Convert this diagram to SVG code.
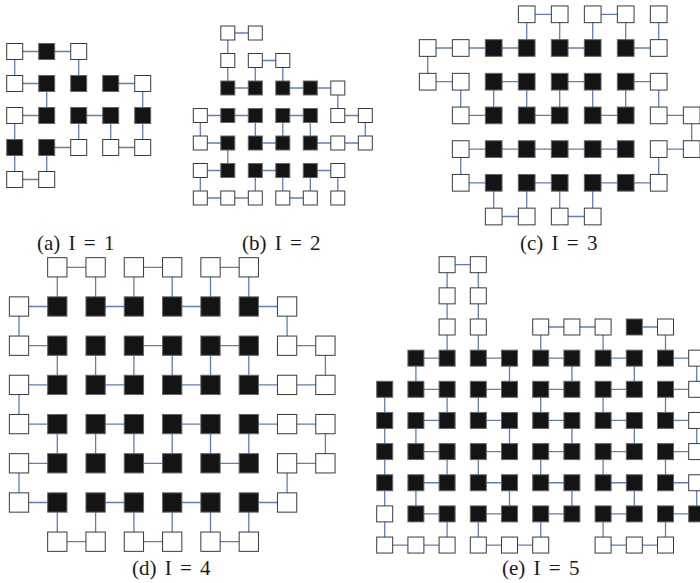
<svg xmlns="http://www.w3.org/2000/svg" width="700" height="583" viewBox="0 0 700 583">
<style>
.w{fill:#fff;stroke:#3a3a3a;stroke-width:1}
.b{fill:#141414;stroke:#666;stroke-width:1}
.e{fill:none;stroke:#5b7fc0;stroke-width:1.3}
.lbl{font-family:"Liberation Serif","Times New Roman",serif;font-size:21px;word-spacing:3px;fill:#1a1a1a}
</style>
<defs>
<rect id="aw" class="w" x="-8" y="-8" width="16" height="16"/>
<rect id="ab" class="b" x="-8" y="-8" width="16" height="16"/>
<rect id="bw" class="w" x="-7" y="-7" width="14" height="14"/>
<rect id="bb" class="b" x="-7" y="-7" width="14" height="14"/>
<rect id="cw" class="w" x="-8.35" y="-8.35" width="16.7" height="16.7"/>
<rect id="cb" class="b" x="-8.35" y="-8.35" width="16.7" height="16.7"/>
<rect id="dw" class="w" x="-9.65" y="-9.65" width="19.3" height="19.3"/>
<rect id="db" class="b" x="-9.65" y="-9.65" width="19.3" height="19.3"/>
</defs>
<g id="connectors" class="e">
<path transform="translate(14.7 51.5)" d="M0 0H64 M0 32H32 M96 32H128 M0 64H32 M64 64H96 M32 96H64 M96 96H128 M0 128H32 M0 0V32 M64 0V32 M32 32V64 M128 32V64 M0 64V128 M64 64V96 M96 64V96 M128 64V96 M32 96V128"/>
<path transform="translate(200.3 33)" d="M27.5 0H55 M55 27.5H82.5 M27.5 55H55 M82.5 55H137.5 M0 82.5H55 M82.5 82.5H110 M137.5 82.5H165 M0 110H27.5 M55 110H82.5 M110 110H165 M0 137.5H27.5 M55 137.5H82.5 M110 137.5H137.5 M0 165H55 M82.5 165H110 M27.5 0V55 M55 27.5V55 M82.5 27.5V55 M137.5 55V82.5 M0 82.5V110 M55 82.5V110 M82.5 82.5V110 M110 82.5V110 M165 82.5V110 M27.5 110V137.5 M0 137.5V165 M55 137.5V165 M82.5 137.5V165 M110 137.5V165 M137.5 137.5V165"/>
<path transform="translate(427.7 14.3)" d="M99 0H132 M165 0H198 M0 33.7H99 M132 33.7H165 M198 33.7H231 M0 67.4H33 M66 67.4H99 M132 67.4H165 M198 67.4H231 M33 101.1H66 M99 101.1H132 M165 101.1H198 M231 101.1H264 M33 134.8H198 M231 134.8H264 M33 168.5H66 M99 168.5H132 M165 168.5H231 M66 202.2H99 M132 202.2H165 M99 0V33.7 M132 0V33.7 M165 0V33.7 M198 0V33.7 M231 0V33.7 M0 33.7V67.4 M33 67.4V101.1 M66 67.4V101.1 M99 67.4V101.1 M132 67.4V101.1 M165 67.4V101.1 M198 67.4V101.1 M231 67.4V101.1 M264 101.1V134.8 M33 134.8V168.5 M231 134.8V168.5 M66 168.5V202.2 M99 168.5V202.2 M132 168.5V202.2 M165 168.5V202.2"/>
<path transform="translate(19 267.3)" d="M38.3 0H76.6 M114.9 0H153.2 M191.5 0H229.8 M0 39.2H38.3 M76.6 39.2H114.9 M153.2 39.2H191.5 M229.8 39.2H268.1 M0 78.4H38.3 M114.9 78.4H153.2 M191.5 78.4H229.8 M268.1 78.4H306.4 M0 117.6H38.3 M76.6 117.6H114.9 M153.2 117.6H191.5 M229.8 117.6H306.4 M0 156.8H38.3 M76.6 156.8H114.9 M153.2 156.8H191.5 M229.8 156.8H306.4 M0 196H38.3 M114.9 196H153.2 M191.5 196H229.8 M268.1 196H306.4 M0 235.2H38.3 M76.6 235.2H114.9 M153.2 235.2H191.5 M229.8 235.2H268.1 M38.3 274.4H76.6 M114.9 274.4H153.2 M191.5 274.4H229.8 M38.3 0V39.2 M76.6 0V39.2 M114.9 0V39.2 M153.2 0V39.2 M191.5 0V39.2 M229.8 0V39.2 M0 39.2V78.4 M268.1 39.2V78.4 M38.3 78.4V117.6 M76.6 78.4V117.6 M114.9 78.4V117.6 M153.2 78.4V117.6 M191.5 78.4V117.6 M229.8 78.4V117.6 M306.4 78.4V117.6 M0 117.6V156.8 M38.3 156.8V196 M76.6 156.8V196 M114.9 156.8V196 M153.2 156.8V196 M191.5 156.8V196 M229.8 156.8V196 M306.4 156.8V196 M0 196V235.2 M268.1 196V235.2 M38.3 235.2V274.4 M76.6 235.2V274.4 M114.9 235.2V274.4 M153.2 235.2V274.4 M191.5 235.2V274.4 M229.8 235.2V274.4"/>
<path transform="translate(384.7 264.7)" d="M62.4 0H93.6 M156 62.3H218.4 M249.6 62.3H280.8 M31.2 93.45H62.4 M93.6 93.45H124.8 M156 93.45H187.2 M218.4 93.45H249.6 M280.8 93.45H312 M31.2 124.6H62.4 M93.6 124.6H124.8 M156 124.6H187.2 M218.4 124.6H249.6 M280.8 124.6H312 M31.2 155.75H62.4 M93.6 155.75H124.8 M156 155.75H187.2 M218.4 155.75H249.6 M280.8 155.75H312 M31.2 186.9H62.4 M93.6 186.9H124.8 M156 186.9H187.2 M218.4 186.9H249.6 M280.8 186.9H312 M31.2 218.05H62.4 M93.6 218.05H124.8 M156 218.05H187.2 M218.4 218.05H249.6 M280.8 218.05H312 M31.2 249.2H62.4 M93.6 249.2H124.8 M156 249.2H187.2 M218.4 249.2H249.6 M280.8 249.2H312 M0 280.35H62.4 M93.6 280.35H156 M218.4 280.35H280.8 M62.4 0V93.45 M93.6 0V93.45 M156 62.3V93.45 M218.4 62.3V93.45 M280.8 62.3V93.45 M0 124.6V280.35 M31.2 93.45V124.6 M124.8 93.45V124.6 M187.2 93.45V124.6 M249.6 93.45V124.6 M312 93.45V124.6 M31.2 155.75V186.9 M124.8 155.75V186.9 M187.2 155.75V186.9 M249.6 155.75V186.9 M312 155.75V186.9 M31.2 218.05V249.2 M124.8 218.05V249.2 M187.2 218.05V249.2 M249.6 218.05V249.2 M312 218.05V249.2 M62.4 124.6V155.75 M93.6 124.6V155.75 M156 124.6V155.75 M218.4 124.6V155.75 M280.8 124.6V155.75 M62.4 186.9V218.05 M93.6 186.9V218.05 M156 186.9V218.05 M218.4 186.9V218.05 M280.8 186.9V218.05 M62.4 249.2V280.35 M93.6 249.2V280.35 M156 249.2V280.35 M218.4 249.2V280.35 M280.8 249.2V280.35"/>
</g>
<g id="panel-a" transform="translate(14.7 51.5)">
<g id="a0-0"><use href="#aw" x="0" y="0"/></g>
<g id="a0-1"><use href="#ab" x="32" y="0"/></g>
<g id="a0-2"><use href="#aw" x="64" y="0"/></g>
<g id="a1-0"><use href="#aw" x="0" y="32"/></g>
<g id="a1-1"><use href="#ab" x="32" y="32"/></g>
<g id="a1-2"><use href="#ab" x="64" y="32"/></g>
<g id="a1-3"><use href="#ab" x="96" y="32"/></g>
<g id="a1-4"><use href="#aw" x="128" y="32"/></g>
<g id="a2-0"><use href="#aw" x="0" y="64"/></g>
<g id="a2-1"><use href="#ab" x="32" y="64"/></g>
<g id="a2-2"><use href="#ab" x="64" y="64"/></g>
<g id="a2-3"><use href="#ab" x="96" y="64"/></g>
<g id="a2-4"><use href="#ab" x="128" y="64"/></g>
<g id="a3-0"><use href="#ab" x="0" y="96"/></g>
<g id="a3-1"><use href="#ab" x="32" y="96"/></g>
<g id="a3-2"><use href="#aw" x="64" y="96"/></g>
<g id="a3-3"><use href="#aw" x="96" y="96"/></g>
<g id="a3-4"><use href="#aw" x="128" y="96"/></g>
<g id="a4-0"><use href="#aw" x="0" y="128"/></g>
<g id="a4-1"><use href="#aw" x="32" y="128"/></g>
</g>
<g id="panel-b" transform="translate(200.3 33)">
<g id="b0-1"><use href="#bw" x="27.5" y="0"/></g>
<g id="b0-2"><use href="#bw" x="55" y="0"/></g>
<g id="b1-1"><use href="#bw" x="27.5" y="27.5"/></g>
<g id="b1-2"><use href="#bw" x="55" y="27.5"/></g>
<g id="b1-3"><use href="#bw" x="82.5" y="27.5"/></g>
<g id="b2-1"><use href="#bb" x="27.5" y="55"/></g>
<g id="b2-2"><use href="#bb" x="55" y="55"/></g>
<g id="b2-3"><use href="#bb" x="82.5" y="55"/></g>
<g id="b2-4"><use href="#bb" x="110" y="55"/></g>
<g id="b2-5"><use href="#bw" x="137.5" y="55"/></g>
<g id="b3-0"><use href="#bw" x="0" y="82.5"/></g>
<g id="b3-1"><use href="#bb" x="27.5" y="82.5"/></g>
<g id="b3-2"><use href="#bb" x="55" y="82.5"/></g>
<g id="b3-3"><use href="#bb" x="82.5" y="82.5"/></g>
<g id="b3-4"><use href="#bb" x="110" y="82.5"/></g>
<g id="b3-5"><use href="#bw" x="137.5" y="82.5"/></g>
<g id="b3-6"><use href="#bw" x="165" y="82.5"/></g>
<g id="b4-0"><use href="#bw" x="0" y="110"/></g>
<g id="b4-1"><use href="#bb" x="27.5" y="110"/></g>
<g id="b4-2"><use href="#bb" x="55" y="110"/></g>
<g id="b4-3"><use href="#bb" x="82.5" y="110"/></g>
<g id="b4-4"><use href="#bb" x="110" y="110"/></g>
<g id="b4-5"><use href="#bw" x="137.5" y="110"/></g>
<g id="b4-6"><use href="#bw" x="165" y="110"/></g>
<g id="b5-0"><use href="#bw" x="0" y="137.5"/></g>
<g id="b5-1"><use href="#bb" x="27.5" y="137.5"/></g>
<g id="b5-2"><use href="#bb" x="55" y="137.5"/></g>
<g id="b5-3"><use href="#bb" x="82.5" y="137.5"/></g>
<g id="b5-4"><use href="#bb" x="110" y="137.5"/></g>
<g id="b5-5"><use href="#bw" x="137.5" y="137.5"/></g>
<g id="b6-0"><use href="#bw" x="0" y="165"/></g>
<g id="b6-1"><use href="#bw" x="27.5" y="165"/></g>
<g id="b6-2"><use href="#bw" x="55" y="165"/></g>
<g id="b6-3"><use href="#bw" x="82.5" y="165"/></g>
<g id="b6-4"><use href="#bw" x="110" y="165"/></g>
<g id="b6-5"><use href="#bw" x="137.5" y="165"/></g>
</g>
<g id="panel-c" transform="translate(427.7 14.3)">
<g id="c0-3"><use href="#cw" x="99" y="0"/></g>
<g id="c0-4"><use href="#cw" x="132" y="0"/></g>
<g id="c0-5"><use href="#cw" x="165" y="0"/></g>
<g id="c0-6"><use href="#cw" x="198" y="0"/></g>
<g id="c0-7"><use href="#cw" x="231" y="0"/></g>
<g id="c1-0"><use href="#cw" x="0" y="33.7"/></g>
<g id="c1-1"><use href="#cw" x="33" y="33.7"/></g>
<g id="c1-2"><use href="#cb" x="66" y="33.7"/></g>
<g id="c1-3"><use href="#cb" x="99" y="33.7"/></g>
<g id="c1-4"><use href="#cb" x="132" y="33.7"/></g>
<g id="c1-5"><use href="#cb" x="165" y="33.7"/></g>
<g id="c1-6"><use href="#cb" x="198" y="33.7"/></g>
<g id="c1-7"><use href="#cw" x="231" y="33.7"/></g>
<g id="c2-0"><use href="#cw" x="0" y="67.4"/></g>
<g id="c2-1"><use href="#cw" x="33" y="67.4"/></g>
<g id="c2-2"><use href="#cb" x="66" y="67.4"/></g>
<g id="c2-3"><use href="#cb" x="99" y="67.4"/></g>
<g id="c2-4"><use href="#cb" x="132" y="67.4"/></g>
<g id="c2-5"><use href="#cb" x="165" y="67.4"/></g>
<g id="c2-6"><use href="#cb" x="198" y="67.4"/></g>
<g id="c2-7"><use href="#cw" x="231" y="67.4"/></g>
<g id="c3-1"><use href="#cw" x="33" y="101.1"/></g>
<g id="c3-2"><use href="#cb" x="66" y="101.1"/></g>
<g id="c3-3"><use href="#cb" x="99" y="101.1"/></g>
<g id="c3-4"><use href="#cb" x="132" y="101.1"/></g>
<g id="c3-5"><use href="#cb" x="165" y="101.1"/></g>
<g id="c3-6"><use href="#cb" x="198" y="101.1"/></g>
<g id="c3-7"><use href="#cw" x="231" y="101.1"/></g>
<g id="c3-8"><use href="#cw" x="264" y="101.1"/></g>
<g id="c4-1"><use href="#cw" x="33" y="134.8"/></g>
<g id="c4-2"><use href="#cb" x="66" y="134.8"/></g>
<g id="c4-3"><use href="#cb" x="99" y="134.8"/></g>
<g id="c4-4"><use href="#cb" x="132" y="134.8"/></g>
<g id="c4-5"><use href="#cb" x="165" y="134.8"/></g>
<g id="c4-6"><use href="#cb" x="198" y="134.8"/></g>
<g id="c4-7"><use href="#cw" x="231" y="134.8"/></g>
<g id="c4-8"><use href="#cw" x="264" y="134.8"/></g>
<g id="c5-1"><use href="#cw" x="33" y="168.5"/></g>
<g id="c5-2"><use href="#cb" x="66" y="168.5"/></g>
<g id="c5-3"><use href="#cb" x="99" y="168.5"/></g>
<g id="c5-4"><use href="#cb" x="132" y="168.5"/></g>
<g id="c5-5"><use href="#cb" x="165" y="168.5"/></g>
<g id="c5-6"><use href="#cb" x="198" y="168.5"/></g>
<g id="c5-7"><use href="#cw" x="231" y="168.5"/></g>
<g id="c6-2"><use href="#cw" x="66" y="202.2"/></g>
<g id="c6-3"><use href="#cw" x="99" y="202.2"/></g>
<g id="c6-4"><use href="#cw" x="132" y="202.2"/></g>
<g id="c6-5"><use href="#cw" x="165" y="202.2"/></g>
</g>
<g id="panel-d" transform="translate(19 267.3)">
<g id="d0-1"><use href="#dw" x="38.3" y="0"/></g>
<g id="d0-2"><use href="#dw" x="76.6" y="0"/></g>
<g id="d0-3"><use href="#dw" x="114.9" y="0"/></g>
<g id="d0-4"><use href="#dw" x="153.2" y="0"/></g>
<g id="d0-5"><use href="#dw" x="191.5" y="0"/></g>
<g id="d0-6"><use href="#dw" x="229.8" y="0"/></g>
<g id="d1-0"><use href="#dw" x="0" y="39.2"/></g>
<g id="d1-1"><use href="#db" x="38.3" y="39.2"/></g>
<g id="d1-2"><use href="#db" x="76.6" y="39.2"/></g>
<g id="d1-3"><use href="#db" x="114.9" y="39.2"/></g>
<g id="d1-4"><use href="#db" x="153.2" y="39.2"/></g>
<g id="d1-5"><use href="#db" x="191.5" y="39.2"/></g>
<g id="d1-6"><use href="#db" x="229.8" y="39.2"/></g>
<g id="d1-7"><use href="#dw" x="268.1" y="39.2"/></g>
<g id="d2-0"><use href="#dw" x="0" y="78.4"/></g>
<g id="d2-1"><use href="#db" x="38.3" y="78.4"/></g>
<g id="d2-2"><use href="#db" x="76.6" y="78.4"/></g>
<g id="d2-3"><use href="#db" x="114.9" y="78.4"/></g>
<g id="d2-4"><use href="#db" x="153.2" y="78.4"/></g>
<g id="d2-5"><use href="#db" x="191.5" y="78.4"/></g>
<g id="d2-6"><use href="#db" x="229.8" y="78.4"/></g>
<g id="d2-7"><use href="#dw" x="268.1" y="78.4"/></g>
<g id="d2-8"><use href="#dw" x="306.4" y="78.4"/></g>
<g id="d3-0"><use href="#dw" x="0" y="117.6"/></g>
<g id="d3-1"><use href="#db" x="38.3" y="117.6"/></g>
<g id="d3-2"><use href="#db" x="76.6" y="117.6"/></g>
<g id="d3-3"><use href="#db" x="114.9" y="117.6"/></g>
<g id="d3-4"><use href="#db" x="153.2" y="117.6"/></g>
<g id="d3-5"><use href="#db" x="191.5" y="117.6"/></g>
<g id="d3-6"><use href="#db" x="229.8" y="117.6"/></g>
<g id="d3-7"><use href="#dw" x="268.1" y="117.6"/></g>
<g id="d3-8"><use href="#dw" x="306.4" y="117.6"/></g>
<g id="d4-0"><use href="#dw" x="0" y="156.8"/></g>
<g id="d4-1"><use href="#db" x="38.3" y="156.8"/></g>
<g id="d4-2"><use href="#db" x="76.6" y="156.8"/></g>
<g id="d4-3"><use href="#db" x="114.9" y="156.8"/></g>
<g id="d4-4"><use href="#db" x="153.2" y="156.8"/></g>
<g id="d4-5"><use href="#db" x="191.5" y="156.8"/></g>
<g id="d4-6"><use href="#db" x="229.8" y="156.8"/></g>
<g id="d4-7"><use href="#dw" x="268.1" y="156.8"/></g>
<g id="d4-8"><use href="#dw" x="306.4" y="156.8"/></g>
<g id="d5-0"><use href="#dw" x="0" y="196"/></g>
<g id="d5-1"><use href="#db" x="38.3" y="196"/></g>
<g id="d5-2"><use href="#db" x="76.6" y="196"/></g>
<g id="d5-3"><use href="#db" x="114.9" y="196"/></g>
<g id="d5-4"><use href="#db" x="153.2" y="196"/></g>
<g id="d5-5"><use href="#db" x="191.5" y="196"/></g>
<g id="d5-6"><use href="#db" x="229.8" y="196"/></g>
<g id="d5-7"><use href="#dw" x="268.1" y="196"/></g>
<g id="d5-8"><use href="#dw" x="306.4" y="196"/></g>
<g id="d6-0"><use href="#dw" x="0" y="235.2"/></g>
<g id="d6-1"><use href="#db" x="38.3" y="235.2"/></g>
<g id="d6-2"><use href="#db" x="76.6" y="235.2"/></g>
<g id="d6-3"><use href="#db" x="114.9" y="235.2"/></g>
<g id="d6-4"><use href="#db" x="153.2" y="235.2"/></g>
<g id="d6-5"><use href="#db" x="191.5" y="235.2"/></g>
<g id="d6-6"><use href="#db" x="229.8" y="235.2"/></g>
<g id="d6-7"><use href="#dw" x="268.1" y="235.2"/></g>
<g id="d7-1"><use href="#dw" x="38.3" y="274.4"/></g>
<g id="d7-2"><use href="#dw" x="76.6" y="274.4"/></g>
<g id="d7-3"><use href="#dw" x="114.9" y="274.4"/></g>
<g id="d7-4"><use href="#dw" x="153.2" y="274.4"/></g>
<g id="d7-5"><use href="#dw" x="191.5" y="274.4"/></g>
<g id="d7-6"><use href="#dw" x="229.8" y="274.4"/></g>
</g>
<g id="panel-e" transform="translate(384.7 264.7)">
<g id="e0-2"><use href="#aw" x="62.4" y="0"/></g>
<g id="e0-3"><use href="#aw" x="93.6" y="0"/></g>
<g id="e1-2"><use href="#aw" x="62.4" y="31.15"/></g>
<g id="e1-3"><use href="#aw" x="93.6" y="31.15"/></g>
<g id="e2-2"><use href="#aw" x="62.4" y="62.3"/></g>
<g id="e2-3"><use href="#aw" x="93.6" y="62.3"/></g>
<g id="e2-5"><use href="#aw" x="156" y="62.3"/></g>
<g id="e2-6"><use href="#aw" x="187.2" y="62.3"/></g>
<g id="e2-7"><use href="#aw" x="218.4" y="62.3"/></g>
<g id="e2-8"><use href="#ab" x="249.6" y="62.3"/></g>
<g id="e2-9"><use href="#aw" x="280.8" y="62.3"/></g>
<g id="e3-1"><use href="#ab" x="31.2" y="93.45"/></g>
<g id="e3-2"><use href="#ab" x="62.4" y="93.45"/></g>
<g id="e3-3"><use href="#ab" x="93.6" y="93.45"/></g>
<g id="e3-4"><use href="#ab" x="124.8" y="93.45"/></g>
<g id="e3-5"><use href="#ab" x="156" y="93.45"/></g>
<g id="e3-6"><use href="#ab" x="187.2" y="93.45"/></g>
<g id="e3-7"><use href="#ab" x="218.4" y="93.45"/></g>
<g id="e3-8"><use href="#ab" x="249.6" y="93.45"/></g>
<g id="e3-9"><use href="#ab" x="280.8" y="93.45"/></g>
<g id="e3-10"><use href="#aw" x="312" y="93.45"/></g>
<g id="e4-0"><use href="#ab" x="0" y="124.6"/></g>
<g id="e4-1"><use href="#ab" x="31.2" y="124.6"/></g>
<g id="e4-2"><use href="#ab" x="62.4" y="124.6"/></g>
<g id="e4-3"><use href="#ab" x="93.6" y="124.6"/></g>
<g id="e4-4"><use href="#ab" x="124.8" y="124.6"/></g>
<g id="e4-5"><use href="#ab" x="156" y="124.6"/></g>
<g id="e4-6"><use href="#ab" x="187.2" y="124.6"/></g>
<g id="e4-7"><use href="#ab" x="218.4" y="124.6"/></g>
<g id="e4-8"><use href="#ab" x="249.6" y="124.6"/></g>
<g id="e4-9"><use href="#ab" x="280.8" y="124.6"/></g>
<g id="e4-10"><use href="#aw" x="312" y="124.6"/></g>
<g id="e5-0"><use href="#ab" x="0" y="155.75"/></g>
<g id="e5-1"><use href="#ab" x="31.2" y="155.75"/></g>
<g id="e5-2"><use href="#ab" x="62.4" y="155.75"/></g>
<g id="e5-3"><use href="#ab" x="93.6" y="155.75"/></g>
<g id="e5-4"><use href="#ab" x="124.8" y="155.75"/></g>
<g id="e5-5"><use href="#ab" x="156" y="155.75"/></g>
<g id="e5-6"><use href="#ab" x="187.2" y="155.75"/></g>
<g id="e5-7"><use href="#ab" x="218.4" y="155.75"/></g>
<g id="e5-8"><use href="#ab" x="249.6" y="155.75"/></g>
<g id="e5-9"><use href="#ab" x="280.8" y="155.75"/></g>
<g id="e5-10"><use href="#aw" x="312" y="155.75"/></g>
<g id="e6-0"><use href="#ab" x="0" y="186.9"/></g>
<g id="e6-1"><use href="#ab" x="31.2" y="186.9"/></g>
<g id="e6-2"><use href="#ab" x="62.4" y="186.9"/></g>
<g id="e6-3"><use href="#ab" x="93.6" y="186.9"/></g>
<g id="e6-4"><use href="#ab" x="124.8" y="186.9"/></g>
<g id="e6-5"><use href="#ab" x="156" y="186.9"/></g>
<g id="e6-6"><use href="#ab" x="187.2" y="186.9"/></g>
<g id="e6-7"><use href="#ab" x="218.4" y="186.9"/></g>
<g id="e6-8"><use href="#ab" x="249.6" y="186.9"/></g>
<g id="e6-9"><use href="#ab" x="280.8" y="186.9"/></g>
<g id="e6-10"><use href="#aw" x="312" y="186.9"/></g>
<g id="e7-0"><use href="#ab" x="0" y="218.05"/></g>
<g id="e7-1"><use href="#ab" x="31.2" y="218.05"/></g>
<g id="e7-2"><use href="#ab" x="62.4" y="218.05"/></g>
<g id="e7-3"><use href="#ab" x="93.6" y="218.05"/></g>
<g id="e7-4"><use href="#ab" x="124.8" y="218.05"/></g>
<g id="e7-5"><use href="#ab" x="156" y="218.05"/></g>
<g id="e7-6"><use href="#ab" x="187.2" y="218.05"/></g>
<g id="e7-7"><use href="#ab" x="218.4" y="218.05"/></g>
<g id="e7-8"><use href="#ab" x="249.6" y="218.05"/></g>
<g id="e7-9"><use href="#ab" x="280.8" y="218.05"/></g>
<g id="e7-10"><use href="#aw" x="312" y="218.05"/></g>
<g id="e8-0"><use href="#aw" x="0" y="249.2"/></g>
<g id="e8-1"><use href="#ab" x="31.2" y="249.2"/></g>
<g id="e8-2"><use href="#ab" x="62.4" y="249.2"/></g>
<g id="e8-3"><use href="#ab" x="93.6" y="249.2"/></g>
<g id="e8-4"><use href="#ab" x="124.8" y="249.2"/></g>
<g id="e8-5"><use href="#ab" x="156" y="249.2"/></g>
<g id="e8-6"><use href="#ab" x="187.2" y="249.2"/></g>
<g id="e8-7"><use href="#ab" x="218.4" y="249.2"/></g>
<g id="e8-8"><use href="#ab" x="249.6" y="249.2"/></g>
<g id="e8-9"><use href="#ab" x="280.8" y="249.2"/></g>
<g id="e8-10"><use href="#ab" x="312" y="249.2"/></g>
<g id="e9-0"><use href="#aw" x="0" y="280.35"/></g>
<g id="e9-1"><use href="#aw" x="31.2" y="280.35"/></g>
<g id="e9-2"><use href="#aw" x="62.4" y="280.35"/></g>
<g id="e9-3"><use href="#aw" x="93.6" y="280.35"/></g>
<g id="e9-4"><use href="#aw" x="124.8" y="280.35"/></g>
<g id="e9-5"><use href="#aw" x="156" y="280.35"/></g>
<g id="e9-7"><use href="#aw" x="218.4" y="280.35"/></g>
<g id="e9-8"><use href="#aw" x="249.6" y="280.35"/></g>
<g id="e9-9"><use href="#aw" x="280.8" y="280.35"/></g>
</g>
<g id="labels" class="lbl">
<text x="37" y="250">(a) I = 1</text>
<text x="242" y="250">(b) I = 2</text>
<text x="520" y="250">(c) I = 3</text>
<text x="132" y="575">(d) I = 4</text>
<text x="502" y="575">(e) I = 5</text>
</g>
</svg>
